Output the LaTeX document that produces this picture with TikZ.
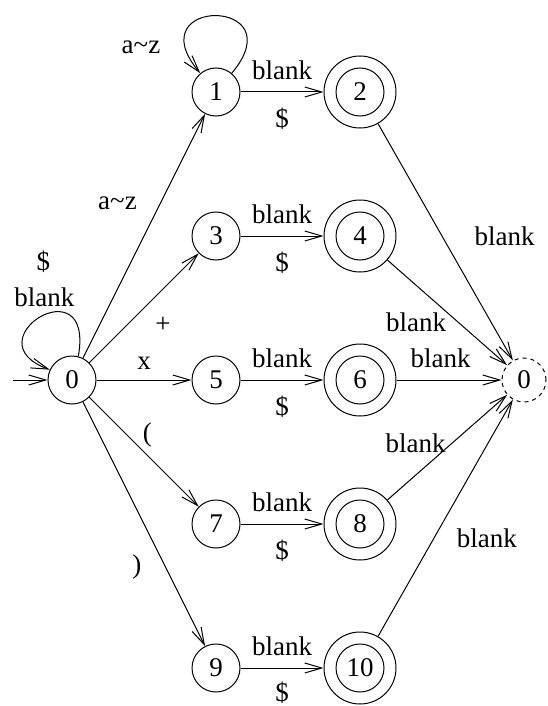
\documentclass[tikz,border=0pt]{standalone}
\usepackage{fontspec}
\setmainfont{Liberation Serif}
\usetikzlibrary{arrows.meta,positioning}

\begin{document}
\begin{tikzpicture}[
  x=1pt, y=-1pt,
  every node/.style={font=\fontsize{27}{31}\selectfont},
  state/.style={circle, draw, line width=1pt, minimum size=48pt, inner sep=0pt},
  accept/.style={state, minimum size=72pt, path picture={\draw [line width=1pt] (path picture bounding box.center) circle (24pt);}},
  sink/.style={state, dash pattern=on 4pt off 4pt, minimum size=44pt},
  lbl/.style={inner sep=2pt},
  line/.style={draw, line width=1pt, -{Straight Barb[length=17pt, width=10pt]}}
]
    \useasboundingbox (0,0) rectangle (547,706);

    \coordinate (start) at (13,380);
    \node [state] (q0) at (72,380) {0};
    \node [state] (q1) at (216,92) {1};
    \node [accept, right of=q1, node distance=144pt] (q2) {2};
    \node [state, below of=q1, node distance=144pt] (q3) {3};
    \node [accept, right of=q3, node distance=144pt] (q4) {4};
    \node [state, below of=q3, node distance=144pt] (q5) {5};
    \node [accept, right of=q5, node distance=144pt] (q6) {6};
    \node [state, below of=q5, node distance=144pt] (q7) {7};
    \node [accept, right of=q7, node distance=144pt] (q8) {8};
    \node [state, below of=q7, node distance=144pt] (q9) {9};
    \node [accept, right of=q9, node distance=144pt] (q10) {10};
    \node [sink, right of=q6, node distance=164pt] (qf) {0};

    \path [line] (start) -- (q0);
    \path [line] (q0.75) .. controls +(80:95pt) and +(160:85pt) .. (q0.155)
        node [lbl, pos=.4, xshift=-8pt, yshift=15pt] {blank}
        node [lbl, pos=.4, xshift=-9pt, yshift=50pt] {\$};
    \path [line] (q1.50) .. controls +(50:100pt) and +(130:100pt) .. (q1.130)
        node [lbl, pos=.8, xshift=-44pt, yshift=-11pt] {a\textasciitilde z};

    \path [line] (q0) -- node [lbl, pos=.635, xshift=-43pt] {a\textasciitilde z} (q1);
    \path [line] (q0) -- node [lbl, pos=.51, xshift=18pt, yshift=-18pt] {+} (q3);
    \path [line] (q0) -- node [lbl, above=8pt] {x} (q5);
    \path [line] (q0) -- node [lbl, pos=.44, xshift=10pt, yshift=10pt] {(} (q7);
    \path [line] (q0) -- node [lbl, pos=.63, xshift=-23pt, yshift=-11pt] {)} (q9);

    \path [line] (q1) -- node [lbl, above=10pt] {blank} node [lbl, below=13pt] {\$} (q2);
    \path [line] (q3) -- node [lbl, above=10pt] {blank} node [lbl, below=13pt] {\$} (q4);
    \path [line] (q5) -- node [lbl, above=10pt] {blank} node [lbl, below=13pt] {\$} (q6);
    \path [line] (q7) -- node [lbl, above=10pt] {blank} node [lbl, below=13pt] {\$} (q8);
    \path [line] (q9) -- node [lbl, above=10pt] {blank} node [lbl, below=11pt] {\$} (q10);

    \path [line] (q2) -- node [lbl, pos=.59, xshift=47pt, yshift=27pt] {blank} (qf);
    \path [line] (q4) -- node [lbl, pos=.39, xshift=-18pt, yshift=-21pt] {blank} (qf);
    \path [line] (q6) -- node [lbl, pos=.42, above=10pt] {blank} (qf);
    \path [line] (q8) -- node [lbl, pos=.37, xshift=-16pt, yshift=18pt] {blank} (qf);
    \path [line] (q10) -- node [lbl, pos=.51, xshift=40pt, yshift=-23pt] {blank} (qf);
\end{tikzpicture}
\end{document}
